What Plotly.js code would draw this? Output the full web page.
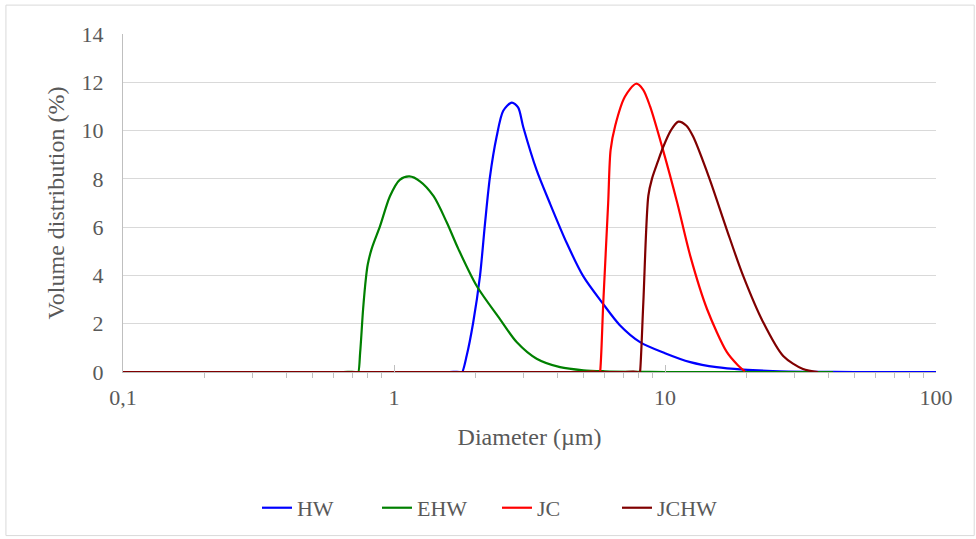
<!DOCTYPE html>
<html>
<head>
<meta charset="utf-8">
<script src="https://cdn.plot.ly/plotly-3.0.1.min.js"></script>
<style>
html,body{margin:0;padding:0;background:#fff;}
#chart{width:976px;height:539px;}
</style>
</head>
<body>
<div id="chart"></div>
<script>
// Diameter (µm) and volume distribution (%)
const hwX = [0.1, 0.3, 0.7, 1.2, 1.6, 1.75, 1.78, 1.855, 1.96, 2.076, 2.167, 2.26, 2.39, 2.53, 2.72, 2.87, 3.0, 3.36, 3.76, 4.34, 4.99, 5.92, 6.8, 8.09, 10, 12.4, 15.5, 19.4, 25, 35, 50, 70, 100];
const hwY = [0, 0, 0, 0, 0, 0, -0.03, 0.68, 2.05, 3.97, 6.16, 8.08, 9.73, 10.82, 11.16, 10.96, 10.14, 8.36, 6.99, 5.34, 3.97, 2.81, 1.95, 1.24, 0.78, 0.41, 0.2, 0.1, 0.04, 0.01, 0, 0, 0];

const ehwX = [0.1, 0.3, 0.5, 0.65, 0.72, 0.736, 0.75, 0.769, 0.788, 0.80, 0.827, 0.888, 0.966, 1.05, 1.14, 1.247, 1.40, 1.565, 1.727, 2.02, 2.46, 2.84, 3.36, 4.1, 5.0, 6.0, 7.5, 10, 15, 20, 30, 41.7];
const ehwY = [0, 0, 0, 0, 0, -0.05, 0.8, 2.6, 3.9, 4.45, 5.1, 6.04, 7.28, 7.96, 8.1, 7.9, 7.28, 6.2, 5.1, 3.56, 2.19, 1.23, 0.55, 0.2, 0.07, 0.03, 0.01, 0, 0, 0, 0, 0];

const jcX = [0.1, 0.3, 1, 3, 5, 5.6, 5.72, 5.76, 5.92, 6.17, 6.30, 6.55, 7.11, 7.82, 8.3, 8.81, 9.83, 11.1, 12.4, 14.3, 16.9, 18.5, 19.7];
const jcY = [0, 0, 0, 0, 0, 0, -0.1, 0, 2.9, 7.0, 9.2, 10.2, 11.4, 11.94, 11.7, 11.0, 9.2, 7.0, 4.8, 2.6, 0.83, 0.3, 0.03];

const jchwX = [0.1, 0.3, 1, 3, 5, 7, 7.9, 8.05, 8.09, 8.32, 8.68, 8.95, 9.4, 9.83, 10.5, 11.2, 12.0, 12.7, 14.6, 16.9, 19.4, 23.0, 27.3, 32.3, 36.7];
const jchwY = [0, 0, 0, 0, 0, 0, 0, -0.1, 0, 2.9, 7.3, 8.0, 8.7, 9.3, 10.0, 10.37, 10.2, 9.75, 8.0, 5.9, 4.0, 2.07, 0.66, 0.12, 0];

const xTickVals = [0.1, 1, 10, 100];
const xTickText = ["0,1", "1", "10", "100"];
const xMinorVals = [0.2, 0.3, 0.4, 0.5, 0.6, 0.7, 0.8, 0.9, 2, 3, 4, 5, 6, 7, 8, 9, 20, 30, 40, 50, 60, 70, 80, 90];
const yTickVals = [0, 2, 4, 6, 8, 10, 12, 14];

const names = ["HW", "EHW", "JC", "JCHW"];
const colors = ["#0000FF", "#008000", "#FF0000", "#800000"];
const xs = [hwX, ehwX, jcX, jchwX];
const ys = [hwY, ehwY, jcY, jchwY];

const traces = names.map((n, i) => ({
  x: xs[i], y: ys[i], name: n, type: "scatter", mode: "lines",
  line: {color: colors[i], width: 2.2, shape: "spline", smoothing: 0.8}
}));

const fam = "Liberation Serif, Times New Roman, serif";
const tickFont = {family: fam, color: "#595959", size: 22};
const titleFont = {family: fam, color: "#595959", size: 24};
const legendFont = {family: fam, color: "#595959", size: 22};

const layout = {
  width: 976, height: 539,
  margin: {l: 123, r: 40, t: 34, b: 166},
  paper_bgcolor: "#fff", plot_bgcolor: "#fff",
  font: tickFont,
  showlegend: true,
  legend: {orientation: "h", x: 0.46, xanchor: "center", y: -0.398, yanchor: "middle",
           font: legendFont, traceorder: "normal", entrywidth: 75, entrywidthmode: "pixels"},
  xaxis: {
    type: "log", range: [-1, 2],
    tickmode: "array", tickvals: xTickVals, ticktext: xTickText,
    ticks: "inside", ticklen: 7, tickcolor: "#bfbfbf",
    minor: {tickmode: "array", tickvals: xMinorVals, ticks: "outside", ticklen: 5, tickcolor: "#bfbfbf", showgrid: false},
    showgrid: false, zeroline: false,
    showline: true, linecolor: "#bfbfbf", linewidth: 1,
    ticklabelstandoff: 6,
    tickfont: tickFont,
    title: {text: "Diameter (µm)", font: titleFont, standoff: 18}
  },
  yaxis: {
    range: [0, 14], tickvals: yTickVals,
    showgrid: true, gridcolor: "#d9d9d9", gridwidth: 1,
    zeroline: false, showline: true, linecolor: "#bfbfbf", linewidth: 1,
    ticks: "", ticklabelstandoff: 14,
    tickfont: tickFont,
    title: {text: "Volume distribution (%)", font: titleFont, standoff: 10}
  },
  shapes: [{
    type: "rect", xref: "paper", yref: "paper",
    x0: -0.144, x1: 1.047, y0: -0.484, y1: 1.0855,
    line: {color: "#d9d9d9", width: 1}, fillcolor: "rgba(0,0,0,0)", layer: "below"
  }]
};

Plotly.newPlot("chart", traces, layout, {displayModeBar: false, staticPlot: true});
</script>
</body>
</html>
